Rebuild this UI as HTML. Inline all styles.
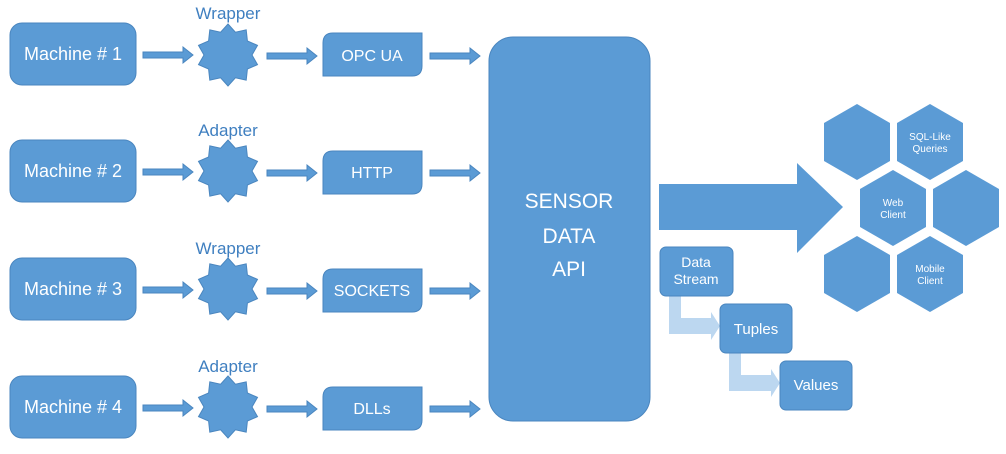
<!DOCTYPE html>
<html><head><style>
html,body{margin:0;padding:0;background:#fff;}
svg text{font-family:"Liberation Sans",sans-serif;}
</style></head><body>
<svg width="1006" height="449" viewBox="0 0 1006 449" xmlns="http://www.w3.org/2000/svg">
<defs>
<polygon id="star" points="0,-31 7.4,-22.8 18.2,-25.1 19.4,-14.1 29.5,-9.6 24,0 29.5,9.6 19.4,14.1 18.2,25.1 7.4,22.8 0,31 -7.4,22.8 -18.2,25.1 -19.4,14.1 -29.5,9.6 -24,0 -29.5,-9.6 -19.4,-14.1 -18.2,-25.1 -7.4,-22.8" fill="#5b9bd5" stroke="#4a86bf" stroke-width="1"/>
<path id="arr" d="M0,-3 H40 V-8 L50,0 L40,8 V3 H0 Z" fill="#5b9bd5" stroke="#4a86bf" stroke-width="1"/>
<path id="sbox" d="M10,0 H99 V33 Q99,43 89,43 H0 V10 Q0,0 10,0 Z" fill="#5b9bd5" stroke="#4a86bf" stroke-width="1"/>
<polygon id="hex" points="0,-38 33,-19 33,19 0,38 -33,19 -33,-19" fill="#5b9bd5"/>
</defs>
<g fill="#fff" font-size="18" text-anchor="middle">
<g>
<rect x="10" y="23" width="126" height="62" rx="12" fill="#5b9bd5" stroke="#4a86bf"/>
<text x="73" y="60">Machine # 1</text>
<use href="#arr" x="143" y="55"/>
<use href="#star" x="228" y="55"/>
<text x="228" y="19" fill="#3f7fc0" font-size="17">Wrapper</text>
<use href="#arr" x="267" y="56"/>
<use href="#sbox" x="323" y="33"/>
<text x="372" y="61" font-size="16">OPC UA</text>
<use href="#arr" x="430" y="56"/>
</g>
<g>
<rect x="10" y="140" width="126" height="62" rx="12" fill="#5b9bd5" stroke="#4a86bf"/>
<text x="73" y="177">Machine # 2</text>
<use href="#arr" x="143" y="172"/>
<use href="#star" x="228" y="171"/>
<text x="228" y="136" fill="#3f7fc0" font-size="17">Adapter</text>
<use href="#arr" x="267" y="173"/>
<use href="#sbox" x="323" y="151"/>
<text x="372" y="178" font-size="16">HTTP</text>
<use href="#arr" x="430" y="173"/>
</g>
<g>
<rect x="10" y="258" width="126" height="62" rx="12" fill="#5b9bd5" stroke="#4a86bf"/>
<text x="73" y="295">Machine # 3</text>
<use href="#arr" x="143" y="290"/>
<use href="#star" x="228" y="289"/>
<text x="228" y="254" fill="#3f7fc0" font-size="17">Wrapper</text>
<use href="#arr" x="267" y="291"/>
<use href="#sbox" x="323" y="269"/>
<text x="372" y="296" font-size="16">SOCKETS</text>
<use href="#arr" x="430" y="291"/>
</g>
<g>
<rect x="10" y="376" width="126" height="62" rx="12" fill="#5b9bd5" stroke="#4a86bf"/>
<text x="73" y="413">Machine # 4</text>
<use href="#arr" x="143" y="408"/>
<use href="#star" x="228" y="407"/>
<text x="228" y="372" fill="#3f7fc0" font-size="17">Adapter</text>
<use href="#arr" x="267" y="409"/>
<use href="#sbox" x="323" y="387"/>
<text x="372" y="414" font-size="16">DLLs</text>
<use href="#arr" x="430" y="409"/>
</g>
<rect x="489" y="37" width="161" height="384" rx="24" fill="#5b9bd5" stroke="#4a86bf"/>
<text x="569" y="208" font-size="21">SENSOR</text>
<text x="569" y="243" font-size="21">DATA</text>
<text x="569" y="276" font-size="21">API</text>
<path d="M659,184 H797 V163 L843,207 L797,253 V230 H659 Z" fill="#5b9bd5"/>
<use href="#hex" x="857" y="142"/>
<use href="#hex" x="930" y="142"/>
<use href="#hex" x="893" y="208"/>
<use href="#hex" x="966" y="208"/>
<use href="#hex" x="857" y="274"/>
<use href="#hex" x="930" y="274"/>
<g font-size="10">
<text x="930" y="140">SQL-Like</text><text x="930" y="152">Queries</text>
<text x="893" y="206">Web</text><text x="893" y="218">Client</text>
<text x="930" y="272">Mobile</text><text x="930" y="284">Client</text>
</g>
<path d="M669,296 H681 V318 H711 V312 L720,326 L711,340 V334 H669 Z" fill="#bcd7f0"/>
<path d="M729,353 H741 V375 H771 V369 L780,383 L771,397 V391 H729 Z" fill="#bcd7f0"/>
<rect x="660" y="247" width="73" height="49" rx="6" fill="#5b9bd5" stroke="#4a86bf"/>
<text x="696" y="267" font-size="14">Data</text><text x="696" y="284" font-size="14">Stream</text>
<rect x="720" y="304" width="72" height="49" rx="6" fill="#5b9bd5" stroke="#4a86bf"/>
<text x="756" y="334" font-size="15">Tuples</text>
<rect x="780" y="361" width="72" height="49" rx="6" fill="#5b9bd5" stroke="#4a86bf"/>
<text x="816" y="390" font-size="15">Values</text>
</g>
</svg>
</body></html>
